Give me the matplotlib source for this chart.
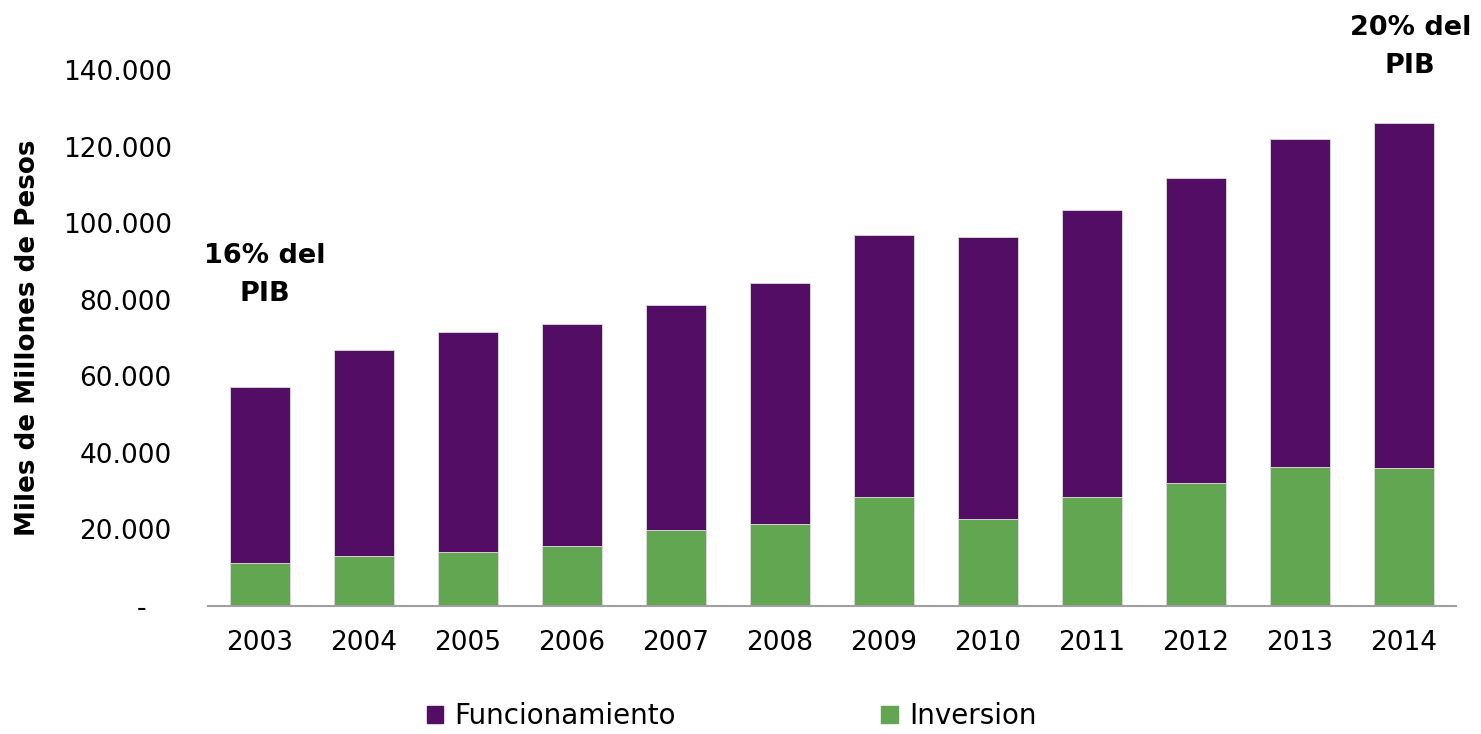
import matplotlib
matplotlib.use("Agg")
import matplotlib.pyplot as plt
from matplotlib.patches import Patch
from matplotlib.ticker import FuncFormatter

years = ["2003", "2004", "2005", "2006", "2007", "2008", "2009", "2010", "2011", "2012", "2013", "2014"]
inversion = [11200, 13100, 14100, 15700, 19800, 21400, 28500, 22700, 28500, 32100, 36300, 36000]
total = [57200, 66800, 71500, 73600, 78600, 84300, 96900, 96300, 103400, 111700, 121900, 126100]
funcionamiento = [t - i for t, i in zip(total, inversion)]

purple = "#540D64"
green = "#63A651"

plt.rcParams['font.family'] = ['DejaVu Sans']
fig = plt.figure(figsize=(14.81, 7.34), dpi=100)
ax = fig.add_axes([0.1404, 0.1744, 0.8427, 0.7302])

x = list(range(len(years)))
ax.bar(x, inversion, width=0.58, color=green, edgecolor="#dcdcdc", linewidth=0.6)
ax.bar(x, funcionamiento, width=0.58, bottom=inversion, color=purple, edgecolor="#dcdcdc", linewidth=0.6)

ax.set_xlim(-0.5, len(years) - 0.5)
ax.set_ylim(0, 140000)
ax.set_yticks(range(0, 140001, 20000))
ax.yaxis.set_major_formatter(FuncFormatter(lambda v, p: "-   " if v == 0 else f"{int(v):,}".replace(",", ".")))
ax.set_xticks(x)
ax.set_xticklabels(years)
ax.tick_params(axis='both', length=0, labelsize=19)
ax.tick_params(axis='x', pad=17)
ax.tick_params(axis='y', pad=26)
for s in ["top", "right", "left"]:
    ax.spines[s].set_visible(False)
ax.spines["bottom"].set_color("#a0a0a0")
ax.spines["bottom"].set_linewidth(1.5)

ax.set_ylabel("Miles de Millones de Pesos", fontsize=18.8, fontweight="bold", labelpad=16)

ax.text(0.05, 86500, "16% del\nPIB", ha="center", va="center", fontsize=19.5, fontweight="bold",
        linespacing=1.6, clip_on=False)
ax.text(11.06, 146000, "20% del\nPIB", ha="center", va="center", fontsize=19.5, fontweight="bold",
        linespacing=1.6, clip_on=False)

handles = [Patch(color=purple, label="Funcionamiento"), Patch(color=green, label="Inversion")]
fig.legend(handles=handles, loc="center", bbox_to_anchor=(0.494, 0.024), ncol=2, frameon=False,
           fontsize=20, handlelength=0.6, handleheight=0.6, handletextpad=0.4, columnspacing=7.4)

fig.savefig("out.png", dpi=100)
